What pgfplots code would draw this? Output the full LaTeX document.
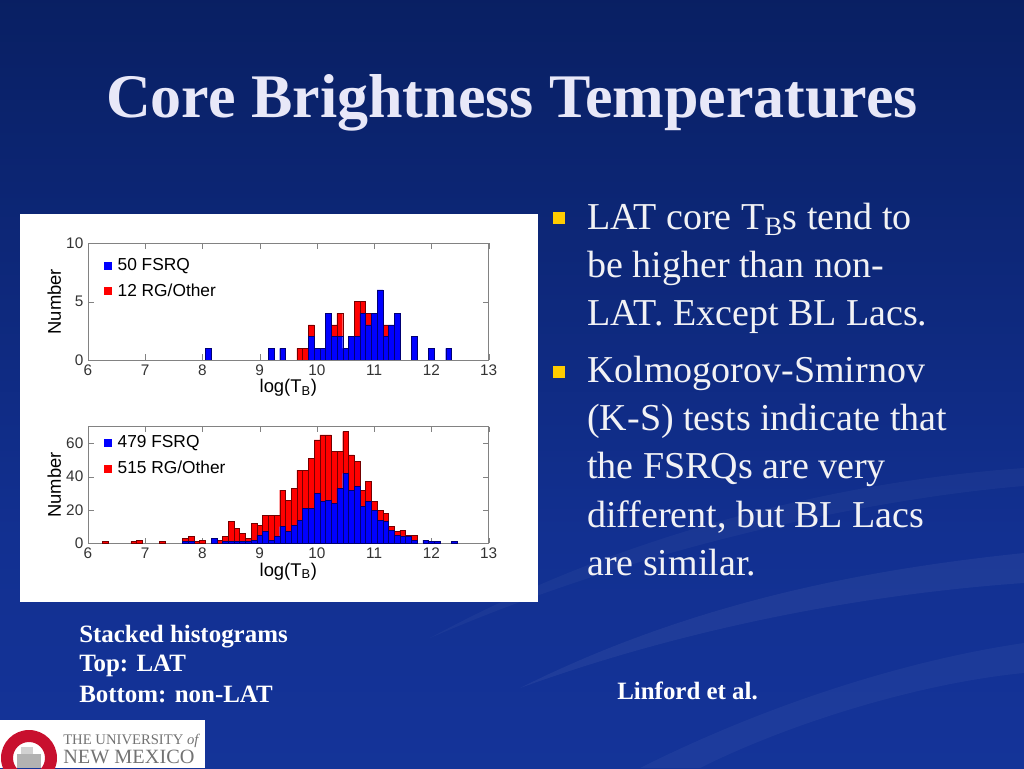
\documentclass[border=0pt]{standalone}
\usepackage{pgfplots}
\pgfplotsset{compat=1.18}
\usepackage{pgfplotstable}
\usepackage{fontspec}
\setmainfont{Liberation Serif}
\newfontfamily\arial{Liberation Sans}

\definecolor{bgtop}{RGB}{1,6,24}
\definecolor{bgup}{RGB}{8,30,95}
\definecolor{bgmid}{RGB}{18,48,145}
\definecolor{bgbot}{RGB}{24,58,165}
\definecolor{titlecol}{RGB}{232,232,248}
\definecolor{txt}{RGB}{242,242,245}
\definecolor{bull}{RGB}{255,204,0}
\definecolor{axgray}{RGB}{130,130,130}
\definecolor{unmred}{RGB}{200,16,46}

\pgfdeclareverticalshading{slidebg}{100bp}{color(0bp)=(bgbot); color(40bp)=(bgmid); color(78bp)=(bgup); color(100bp)=(bgtop)}

% top panel: LAT sources (bin centres, counts)
\pgfplotstableread{
x    fsrq rg
8.1  1 0
9.2  1 0
9.4  1 0
9.7  0 1
9.8  0 1
9.9  2 1
10.0 1 0
10.1 1 0
10.2 4 0
10.3 2 1
10.4 2 2
10.5 1 0
10.6 2 0
10.7 2 3
10.8 4 1
10.9 3 1
11.0 4 0
11.1 6 0
11.2 2 1
11.3 3 0
11.4 4 0
11.7 2 0
12.0 1 0
12.3 1 0
}\lat

% bottom panel: non-LAT sources
\pgfplotstableread{
x    fsrq rg
6.3  0 1
6.8  0 1
6.9  0 2
7.3  0 1
7.7  1 2
7.8  1 3
7.9  0 1
8.0  0 2
8.2  3 0
8.3  0 2
8.4  1 3
8.5  1 12
8.6  1 8
8.7  1 5
8.8  1 2
8.9  2 10
9.0  5 6
9.1  7 10
9.2  2 15
9.3  4 13
9.4  10 22
9.5  7 19
9.6  11 22
9.7  14 30
9.8  21 23
9.9  21 30
10.0 30 32
10.1 25 40
10.2 26 39
10.3 24 31
10.4 33 22
10.5 42 25
10.6 32 21
10.7 34 15
10.8 22 10
10.9 25 12
11.0 20 5
11.1 14 6
11.2 13 5
11.3 8 2
11.4 5 2
11.5 4 4
11.6 4 1
11.7 2 3
11.9 2 0
12.0 1 0
12.1 1 0
12.4 1 0
}\nonlat

\pgfplotsset{
  histo/.style={
    scale only axis, width=300.5pt, height=87.5pt,
    xmin=6, xmax=13, xtick={6,...,13},
    ybar stacked, bar width=0.1,
    axis line style={axgray}, tick style={axgray},
    tick align=inside, tick pos=both,
    /pgf/number format/assume math mode=true,
    tick label style={font=\arial\fontsize{11.5}{12}\selectfont, text=black!80},
    label style={font=\arial\fontsize{13.8}{15}\selectfont},
    xlabel={log(T\textsubscript{B})},
    ylabel={Number},
    xlabel style={yshift=4pt},
    ylabel style={yshift=-3pt},
    legend style={draw=none, fill=none, anchor=north west,
      font=\arial\fontsize{13}{14}\selectfont, row sep=4.5pt,
      /tikz/every odd column/.append style={column sep=2.5pt}},
    legend cell align=left,
  },
  fsrqbar/.style={fill=blue, draw=blue!45!black, line width=0.3pt,
    legend image code/.code={\fill[blue] (0pt,-2.6pt) rectangle (5.2pt,2.6pt);}},
  rgbar/.style={fill=red, draw=red!45!black, line width=0.3pt,
    legend image code/.code={\fill[red] (0pt,-2.6pt) rectangle (5.2pt,2.6pt);}},
}

\begin{document}
\begin{tikzpicture}[x=0.75pt,y=0.75pt]
\useasboundingbox (0,0) rectangle (1024,768);
\shade[shading=slidebg] (0,0) rectangle (1024,768);

% soft swooshes, bottom right
\fill[white, opacity=0.05] (520,80) .. controls (700,170) and (880,200) .. (1024,215)
  -- (1024,185) .. controls (880,175) and (700,145) .. (520,80) -- cycle;
\fill[white, opacity=0.04] (640,0) .. controls (780,70) and (920,110) .. (1024,125)
  -- (1024,95) .. controls (920,85) and (790,45) .. (700,0) -- cycle;
\fill[white, opacity=0.035] (430,130) .. controls (650,250) and (880,290) .. (1024,300)
  -- (1024,282) .. controls (880,270) and (650,225) .. (430,130) -- cycle;

% title
\node[anchor=base, font=\bfseries\fontsize{46.5}{52}\selectfont, text=titlecol]
  at (512,650) {Core Brightness Temperatures};

% white panel
\fill[white] (20,166) rectangle (538,554);

% bullets
\fill[bull] (553,544) rectangle (565,556);
\fill[bull] (553,390) rectangle (565,402);
\begin{scope}[every node/.style={anchor=base west, font=\fontsize{28.5}{34}\selectfont, text=txt, inner sep=0pt}]
\node at (587,538) {LAT core T\textsubscript{B}s tend to};
\node at (587,490) {be higher than non-};
\node at (587,442) {LAT. Except BL Lacs.};
\node at (587,385) {Kolmogorov-Smirnov};
\node at (587,337) {(K-S) tests indicate that};
\node at (587,289) {the FSRQs are very};
\node at (587,241) {different, but BL Lacs};
\node at (587,193) {are similar.};
\end{scope}

\begin{scope}[every node/.style={anchor=base west, font=\bfseries\fontsize{18.7}{22}\selectfont, text=white, inner sep=0pt}]
\node at (79,126) {Stacked histograms};
\node at (79,97) {Top: LAT};
\node at (79,66) {Bottom: non-LAT};
\node at (617,69) {Linford et al.};
\end{scope}

% university logo
\fill[white] (0,0) rectangle (205,48);
\begin{scope}
\clip (0,0) rectangle (62,48);
\fill[unmred, even odd rule] (29,10) circle[radius=28] (29,10) circle[radius=16];
\fill[black!30] (17,0) rectangle (41,14);
\fill[black!18] (21,14) rectangle (33,21);
\end{scope}
\node[anchor=base west, font=\fontsize{11}{12}\selectfont, text=black!55, inner sep=0pt]
  at (63,24) {THE UNIVERSITY \textit{of}};
\node[anchor=base west, font=\fontsize{15.2}{16}\selectfont, text=black!55, inner sep=0pt]
  at (63,5) {NEW MEXICO};

% top histogram (LAT)
\begin{axis}[histo, at={(66pt,306pt)}, anchor=south west,
  ymin=0, ymax=10, ytick={0,5,10},
  legend style={at={(0.03,0.92)}}]
\addplot[fsrqbar] table[x=x, y=fsrq] {\lat};
\addplot[rgbar] table[x=x, y=rg] {\lat};
\legend{50 FSRQ, 12 RG/Other}
\end{axis}

% bottom histogram (non-LAT)
\begin{axis}[histo, at={(66pt,168.5pt)}, anchor=south west,
  ymin=0, ymax=70, ytick={0,20,40,60},
  legend style={at={(0.03,0.97)}}]
\addplot[fsrqbar] table[x=x, y=fsrq] {\nonlat};
\addplot[rgbar] table[x=x, y=rg] {\nonlat};
\legend{479 FSRQ, 515 RG/Other}
\end{axis}
\end{tikzpicture}
\end{document}
